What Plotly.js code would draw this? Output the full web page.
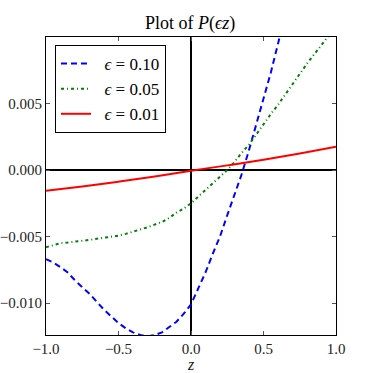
<!DOCTYPE html>
<html>
<head>
<meta charset="utf-8">
<script src="https://cdn.plot.ly/plotly-3.0.1.min.js"></script>
<style>html,body{margin:0;padding:0;background:#fff;}#chart{width:373px;height:373px;}</style>
</head>
<body>
<div id="chart"></div>
<script>
var zBlue = [-1, -0.95, -0.9, -0.85, -0.8, -0.75, -0.7, -0.65, -0.6, -0.55, -0.5, -0.45, -0.4, -0.35, -0.3, -0.25, -0.2, -0.15, -0.1, -0.05, 0, 0.05, 0.1, 0.15, 0.2, 0.25, 0.3, 0.35, 0.4, 0.45, 0.5, 0.55, 0.6, 0.65];
var pEps010 = [-0.0067, -0.00695, -0.0073, -0.0077, -0.0083, -0.0088, -0.0093, -0.0099, -0.0105, -0.0110, -0.0115, -0.0119, -0.0122, -0.0124, -0.0125, -0.0124, -0.0122, -0.0118, -0.0114, -0.0108, -0.0101, -0.0089, -0.0077, -0.0063, -0.0050, -0.0034, -0.0019, -0.0003, 0.0015, 0.0034, 0.0053, 0.0073, 0.0095, 0.0117];
var zGreen = [-1, -0.95, -0.9, -0.85, -0.8, -0.75, -0.7, -0.65, -0.6, -0.55, -0.5, -0.45, -0.4, -0.35, -0.3, -0.25, -0.2, -0.15, -0.1, -0.05, 0, 0.05, 0.1, 0.15, 0.2, 0.25, 0.3, 0.35, 0.4, 0.45, 0.5, 0.55, 0.6, 0.65, 0.7, 0.75, 0.8, 0.85, 0.9, 0.95, 1.0];
var pEps005 = [-0.0058, -0.00565, -0.0055, -0.00545, -0.0054, -0.00532, -0.00525, -0.00517, -0.0051, -0.00503, -0.00493, -0.0048, -0.00465, -0.0045, -0.0043, -0.0041, -0.0039, -0.0036, -0.0032, -0.0029, -0.0025, -0.0020, -0.0015, -0.0010, -0.0005, 0.0000, 0.0006, 0.0013, 0.0019, 0.0027, 0.0034, 0.0042, 0.0049, 0.0057, 0.0065, 0.0072, 0.0080, 0.0087, 0.0094, 0.0101, 0.0108];
var zRed = [-1, -0.75, -0.5, -0.25, 0, 0.25, 0.5, 0.75, 1.0];
var pEps001 = [-0.00155, -0.00123, -0.00088, -0.00049, -0.00005, 0.00035, 0.00078, 0.00125, 0.00175];
var seriesNames = ['&nbsp;&nbsp;<i>ϵ</i> = 0.10', '&nbsp;&nbsp;<i>ϵ</i> = 0.05', '&nbsp;&nbsp;<i>ϵ</i> = 0.01'];
var xTicks = [-1, -0.5, 0, 0.5, 1];
var yTicks = [-0.01, -0.005, 0, 0.005];

var serif = 'Liberation Serif, DejaVu Serif, serif';
var traces = [
  {x: zBlue, y: pEps010, name: seriesNames[0], mode: 'lines', line: {color: '#0000ff', width: 2, dash: '6px,4px'}},
  {x: zGreen, y: pEps005, name: seriesNames[1], mode: 'lines', line: {color: '#008000', width: 2, dash: '3px,3px,1px,3px'}},
  {x: zRed, y: pEps001, name: seriesNames[2], mode: 'lines', line: {color: '#ff0000', width: 2, shape: 'spline'}}
];
var axisCommon = {
  showgrid: false, zeroline: true, zerolinecolor: '#000', zerolinewidth: 2,
  showline: true, linecolor: '#000', linewidth: 1, mirror: 'ticks',
  ticks: 'inside', ticklen: 4, tickcolor: '#555', tickwidth: 1,
  tickfont: {family: serif, size: 15, color: '#222'}
};
var layout = {
  width: 373, height: 373,
  margin: {l: 46, r: 37, t: 37, b: 38},
  paper_bgcolor: '#fff', plot_bgcolor: '#fff',
  title: {text: 'Plot of <i>P</i>(<i>ϵz</i>)', x: 0.51, xanchor: 'center', y: 0.94, yanchor: 'middle', font: {family: serif, size: 18, color: '#000'}},
  xaxis: Object.assign({}, axisCommon, {range: [-1, 1], tickvals: xTicks, tickformat: '.1f',
    title: {text: '<i>z</i>', font: {family: serif, size: 16, color: '#222'}, standoff: 6}}),
  yaxis: Object.assign({}, axisCommon, {range: [-0.0124, 0.01], tickvals: yTicks, tickformat: '.3f'}),
  showlegend: true,
  legend: {x: 0.031, y: 0.973, xanchor: 'left', yanchor: 'top', bgcolor: '#fff', bordercolor: '#000', borderwidth: 1,
    font: {family: serif, size: 17, color: '#000'}, tracegroupgap: 0, itemwidth: 30}
};
Plotly.newPlot('chart', traces, layout, {staticPlot: true});
</script>
</body>
</html>
